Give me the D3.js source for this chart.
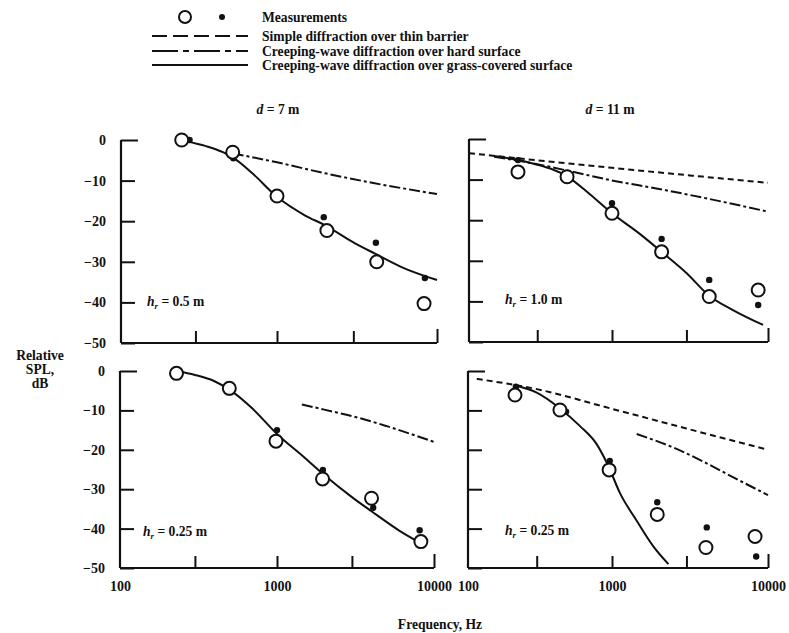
<!DOCTYPE html>
<html><head><meta charset="utf-8">
<script src="https://cdn.jsdelivr.net/npm/d3@7"></script>
<style>
body{margin:0;background:#fff;}
svg{display:block;}
text{font-family:"Liberation Serif","DejaVu Serif",serif;fill:#111;}
</style></head>
<body><svg id="c" width="789" height="633"></svg>
<script>
// ---------- data ----------
const yTicks = [0,-10,-20,-30,-40,-50];
const xTicks = [100,300,1000,3000,10000];
const xTickLabels = ["100","","1000","","10000"];
const legendLabels = ["Measurements","Simple diffraction over thin barrier","Creeping-wave diffraction over hard surface","Creeping-wave diffraction over grass-covered surface"];
const columnTitles = ["7","11"];
const heightLabels = ["0.5 m","1.0 m","0.25 m","0.25 m"];

// top-left: d = 7 m, hr = 0.5 m
const tlCircleF = [245,520,1000,2050,4200,8300];
const tlCircleV = [0,-3,-13.8,-22.3,-30,-40.3];
const tlDotF = [275,525,1020,1960,4150,8400];
const tlDotV = [0,-4.5,-14,-19,-25.3,-34];
const tlGrassF = [262,350,450,520,700,1000,1500,2000,3000,4100,6000,10000];
const tlGrassV = [-0.3,-1.5,-3,-4.3,-8.3,-14,-18.6,-21,-25.2,-28,-31.3,-34.5];
const tlHardF = [520,1000,2000,4000,10000];
const tlHardV = [-3.3,-5.5,-8.2,-10.6,-13.3];

// top-right: d = 11 m, hr = 1.0 m
const trCircleF = [220,485,1000,2080,4200,8650];
const trCircleV = [-8.1,-9.3,-18.3,-27.8,-38.8,-37.2];
const trDotF = [220,490,1000,2080,4200,8650];
const trDotV = [-5.2,-8.8,-15.8,-24.6,-34.7,-40.9];
const trGrassF = [150,250,500,700,1000,1500,2080,3000,4200,6000,9300];
const trGrassV = [-4.2,-5.6,-9.5,-13.6,-18.3,-23.3,-27.8,-33,-38.6,-42.2,-45.8];
const trHardF = [150,300,600,1000,2000,4000,10000];
const trHardV = [-4.4,-6.2,-8.5,-10.2,-12.3,-14.6,-17.9];
const trSimpleF = [100,1000,10000];
const trSimpleV = [-3.5,-7.1,-10.8];

// bottom-left: d = 7 m, hr = 0.25 m
const blCircleF = [229,497,985,1950,4000,8250];
const blCircleV = [-0.6,-4.4,-17.8,-27.4,-32.3,-43.3];
const blDotF = [240,500,1000,1960,4100,8100];
const blDotV = [-0.3,-5.4,-15,-25.1,-34.7,-40.4];
const blGrassF = [230,300,400,500,700,1000,1500,2000,3000,4000,6000,8500];
const blGrassV = [0,-1,-2.6,-4.8,-9.6,-16,-22,-26.4,-32,-35.6,-40.5,-44];
const blHardF = [1440,2000,3400,5000,10000];
const blHardV = [-8.5,-9.8,-12,-14,-18];

// bottom-right: d = 11 m, hr = 0.25 m
const brCircleF = [212,435,955,1950,4000,8260];
const brCircleV = [-6.1,-9.9,-25.1,-36.4,-44.8,-42];
const brDotF = [215,480,965,1950,4050,8400];
const brDotV = [-4,-10.3,-22.8,-33.3,-39.7,-47.1];
const brGrassF = [212,300,435,600,780,940,1125,1440,1840,2300];
const brGrassV = [-3.7,-5.5,-9.5,-14,-18.5,-24,-31,-38,-44.5,-49];
const brHardF = [1440,2500,3850,6000,10000];
const brHardV = [-16,-19.5,-23,-27,-31.5];
const brSimpleF = [115,300,1000,3000,10000];
const brSimpleV = [-2,-4.6,-9.6,-14.6,-20];

// ---------- drawing ----------
const svg = d3.select("#c");
svg.append("rect").attr("width",789).attr("height",633).attr("fill","#fff");

const DASH_SIMPLE = "6,4";
const DASH_HARD = "11,3,3,3";
const FS = 13.6;

const panels = [
  {xr:[121,277,437], yr:[343,140], yl:true,  xl:false,
   circ:[tlCircleF,tlCircleV], dot:[tlDotF,tlDotV], grass:[tlGrassF,tlGrassV], hard:[tlHardF,tlHardV], simple:null,
   hr:heightLabels[0], hx:147, hy:306},
  {xr:[469,612,768], yr:[342,139], yl:false, xl:false,
   circ:[trCircleF,trCircleV], dot:[trDotF,trDotV], grass:[trGrassF,trGrassV], hard:[trHardF,trHardV], simple:[trSimpleF,trSimpleV],
   hr:heightLabels[1], hx:505, hy:304},
  {xr:[120,277,434], yr:[568,371], yl:true,  xl:true,
   circ:[blCircleF,blCircleV], dot:[blDotF,blDotV], grass:[blGrassF,blGrassV], hard:[blHardF,blHardV], simple:null,
   hr:heightLabels[2], hx:143, hy:536},
  {xr:[468,612,768], yr:[568,371], yl:false, xl:true,
   circ:[brCircleF,brCircleV], dot:[brDotF,brDotV], grass:[brGrassF,brGrassV], hard:[brHardF,brHardV], simple:[brSimpleF,brSimpleV],
   hr:heightLabels[3], hx:505, hy:535}
];

const zip = (f,v)=>f.map((d,i)=>[d,v[i]]);

panels.forEach(p=>{
  const x = d3.scaleLog().domain([100,1000,10000]).range(p.xr);
  const y = d3.scaleLinear().domain([-50,0]).range(p.yr);
  const g = svg.append("g");

  const ya = g.append("g").attr("transform",`translate(${p.xr[0]},0)`)
    .call(d3.axisLeft(y).tickValues(yTicks).tickSize(-14).tickSizeOuter(0).tickPadding(15)
      .tickFormat(p.yl ? (d=> d===0 ? "0" : "\u2212"+Math.abs(d)) : ()=>""));
  const xa = g.append("g").attr("transform",`translate(0,${p.yr[0]})`)
    .call(d3.axisBottom(x).tickValues(xTicks).tickSize(-12).tickSizeOuter(0).tickPadding(13)
      .tickFormat((d,i)=> p.xl ? xTickLabels[i] : ""));
  [ya,xa].forEach(a=>{
    a.selectAll("path.domain").attr("stroke","#111").attr("stroke-width",2.2);
    a.selectAll(".tick line").attr("stroke","#111").attr("stroke-width",2);
    a.selectAll(".tick text").attr("font-size",14).attr("font-weight","bold").attr("fill","#111")
      .style("font-family","'Liberation Serif',serif");
  });
  ya.select(".tick line").attr("x2",17);
  xa.selectAll(".tick").filter(d=>d===100).select("line").remove();
  xa.selectAll(".tick").filter(d=>d===10000).select("line").attr("y2",-14);
  ya.select("path.domain").attr("d",`M0,${p.yr[1]}V${p.yr[0]}`);
  xa.select("path.domain").attr("d",`M${p.xr[0]},0H${p.xr[2]}`);

  const line = d3.line().x(d=>x(d[0])).y(d=>y(d[1])).curve(d3.curveMonotoneX);

  if(p.simple){
    g.append("path").attr("d",line(zip(...p.simple))).attr("fill","none")
      .attr("stroke","#111").attr("stroke-width",2).attr("stroke-dasharray",DASH_SIMPLE);
  }
  g.append("path").attr("d",line(zip(...p.hard))).attr("fill","none")
    .attr("stroke","#111").attr("stroke-width",2).attr("stroke-dasharray",DASH_HARD);
  g.append("path").attr("d",line(zip(...p.grass))).attr("fill","none")
    .attr("stroke","#111").attr("stroke-width",2);

  g.selectAll("circle.dot").data(zip(...p.dot)).join("circle").attr("class","dot")
    .attr("cx",d=>x(d[0])).attr("cy",d=>y(d[1])).attr("r",3.2).attr("fill","#111");
  g.selectAll("circle.open").data(zip(...p.circ)).join("circle").attr("class","open")
    .attr("cx",d=>x(d[0])).attr("cy",d=>y(d[1])).attr("r",6.5)
    .attr("fill","#fff").attr("stroke","#111").attr("stroke-width",2);

  const t = g.append("text").attr("x",p.hx).attr("y",p.hy).attr("font-size",FS).attr("font-weight","bold");
  t.append("tspan").attr("font-style","italic").text("h");
  t.append("tspan").attr("font-style","italic").attr("font-size",9).attr("dy",3).text("r");
  t.append("tspan").attr("dy",-3).text(" = " + p.hr);
});

// column titles
[[278,columnTitles[0]],[610,columnTitles[1]]].forEach(([cx,v])=>{
  const t = svg.append("text").attr("x",cx).attr("y",114).attr("text-anchor","middle")
    .attr("font-size",FS).attr("font-weight","bold");
  t.append("tspan").attr("font-style","italic").text("d");
  t.append("tspan").text(" = " + v + " m");
});

// legend
const lg = svg.append("g");
lg.append("circle").attr("cx",185).attr("cy",17).attr("r",6).attr("fill","#fff").attr("stroke","#111").attr("stroke-width",2);
lg.append("circle").attr("cx",222).attr("cy",17).attr("r",3).attr("fill","#111");
const rowsY = [17,36,51,65];
const legendDash = [null,"15,6","26,5,6,5", null];
[1,2,3].forEach(i=>{
  const l = lg.append("line").attr("x1",152).attr("x2",248).attr("y1",rowsY[i]).attr("y2",rowsY[i])
    .attr("stroke","#111").attr("stroke-width",2);
  if(legendDash[i]) l.attr("stroke-dasharray",legendDash[i]);
});
legendLabels.forEach((s,i)=>{
  lg.append("text").attr("x",262).attr("y",rowsY[i]+4.5).attr("font-size",FS).attr("font-weight","bold").text(s);
});

// y axis title
["Relative","SPL,","dB"].forEach((s,i)=>{
  svg.append("text").attr("x",40).attr("y",360+i*14).attr("text-anchor","middle")
    .attr("font-size",FS).attr("font-weight","bold").text(s);
});
// x axis title
svg.append("text").attr("x",440).attr("y",629).attr("text-anchor","middle")
  .attr("font-size",FS).attr("font-weight","bold").text("Frequency, Hz");
</script></body></html>
